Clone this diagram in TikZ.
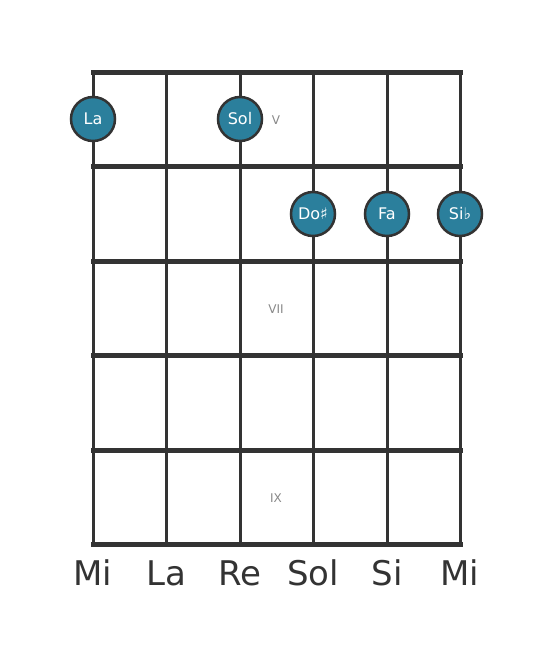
\documentclass[tikz,border=0pt]{standalone}
\usepackage{fontspec}
\setmainfont{DejaVu Sans}
\definecolor{dark}{HTML}{333333}
\definecolor{teal1}{HTML}{2B7F9C}
\definecolor{numgray}{HTML}{888888}
\begin{document}
\begin{tikzpicture}[x=1pt,y=-1pt,
  fret/.style={draw=dark,line width=5pt},
  strg/.style={draw=dark,line width=3pt},
  note/.style={circle,draw=dark,line width=2.5pt,fill=teal1,minimum size=44pt,inner sep=0pt,text=white,font=\fontsize{16}{16}\selectfont},
  fretnum/.style={text=numgray,font=\fontsize{12}{12}\selectfont},
  strname/.style={text=dark,font=\fontsize{34}{34}\selectfont}]
\useasboundingbox (0,0) rectangle (553,656);
\foreach \i/\x in {1/93,2/166,3/240,4/313,5/387,6/460}{
  \coordinate (t\i) at (\x,72);
  \coordinate (b\i) at (\x,544);
  \draw[strg] (t\i) -- (b\i);
}
\foreach \j/\y in {0/72,1/166,2/261,3/355,4/450,5/544}{
  \coordinate (l\j) at (93,\y);
  \coordinate (r\j) at (460,\y);
  \draw[fret,line cap=rect] (l\j) -- (r\j);
}
\node[fretnum] (f5) at (276,120) {V};
\node[fretnum] (f7) at (276,309) {VII};
\node[fretnum] (f9) at (276,498) {IX};
\node[note] (n1) at (93,119) {La};
\node[note] (n2) at (240,119) {Sol};
\node[note] (n3) at (313,214) {Do♯};
\node[note] (n4) at (387,214) {Fa};
\node[note] (n5) at (460,214) {Si♭};
\foreach \i/\x/\s in {1/93/Mi,2/166/La,3/240/Re,4/313/Sol,5/387/Si,6/460/Mi}{
  \node[strname] (s\i) at (\x,573) {\s};
}
\end{tikzpicture}
\end{document}
